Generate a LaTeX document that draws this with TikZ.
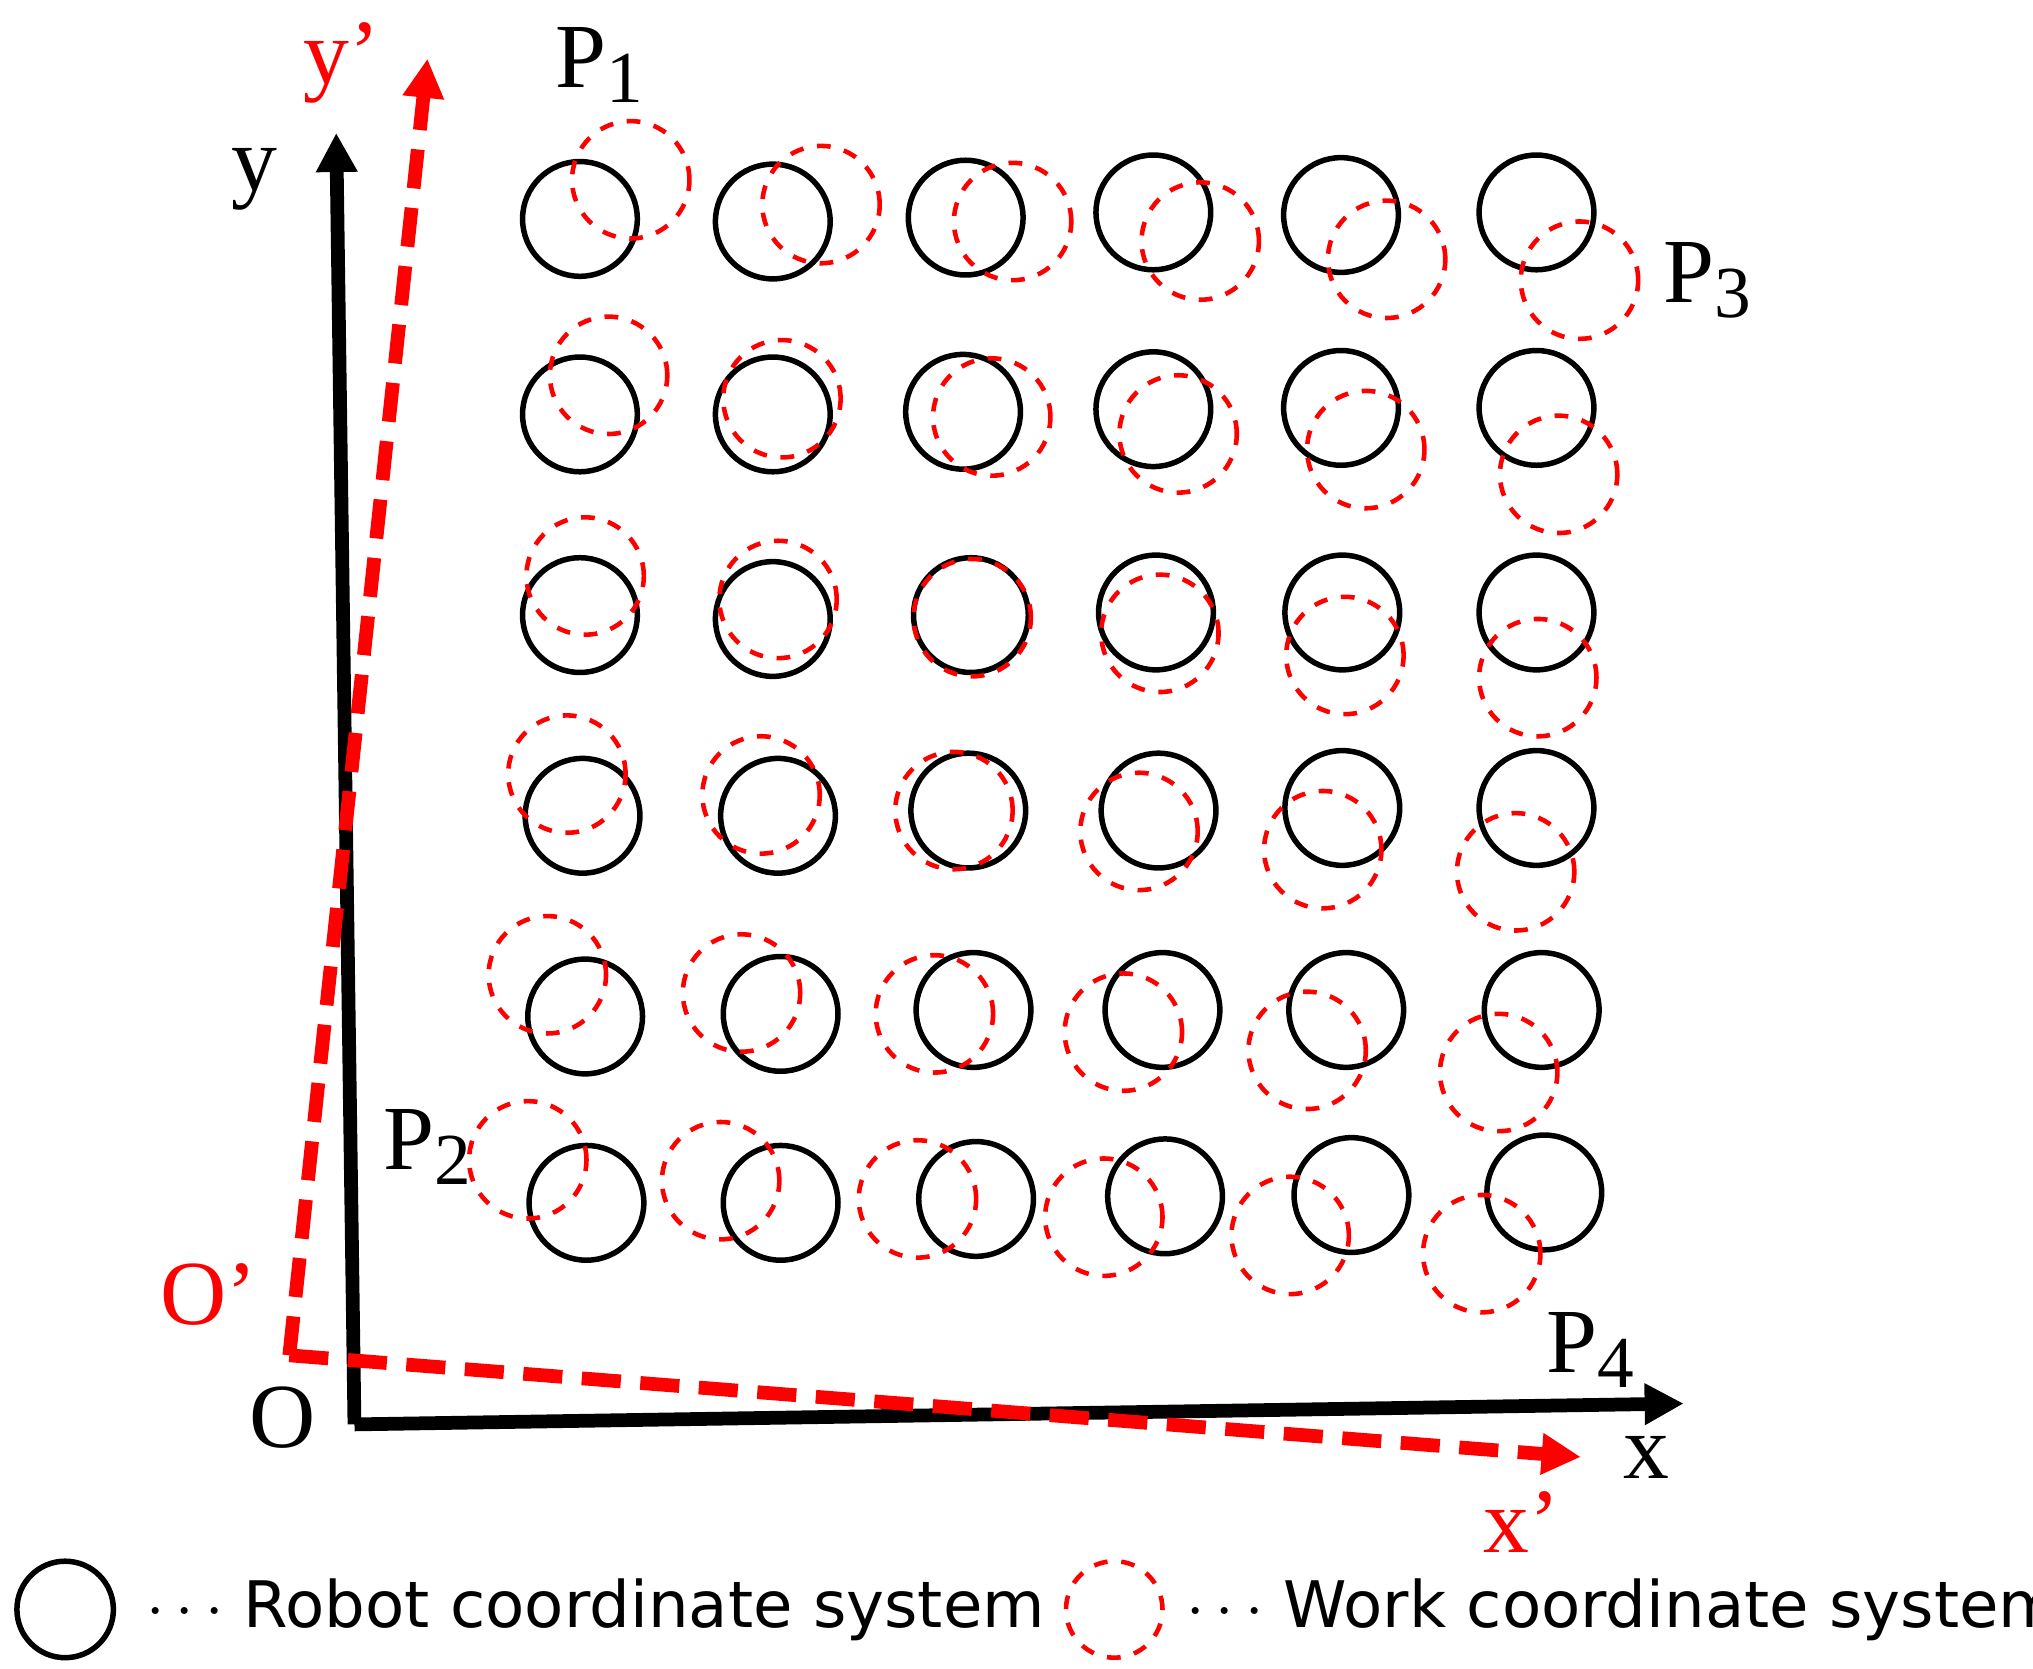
\documentclass[tikz,border=0pt]{standalone}
\usepackage{fontspec}
\setmainfont{Liberation Serif}
\newfontfamily\legendfont{DejaVu Sans}
\usetikzlibrary{arrows.meta}
\newcommand{\sbs}[1]{\raisebox{-0.35ex}{\fontsize{16}{16}\selectfont #1}}
\tikzset{
  robot/.style={circle,draw=black,line width=1.2pt,minimum size=0.88cm,inner sep=0pt},
  work/.style={circle,draw=red,dashed,line width=1pt,minimum size=0.9cm,inner sep=0pt},
  lbl/.style={font=\fontsize{20}{22}\selectfont},
  legend/.style={anchor=west,font=\legendfont\fontsize{14}{16}\selectfont},
}
\begin{document}
\begin{tikzpicture}[x=0.01cm,y=-0.01cm]
\useasboundingbox (0,0) rectangle (1560,1280);

% robot coordinate system circles
\foreach \px/\py [count=\i] in {448/168,596/170,744/167,888/163,1032/165,1182/163,
  448/318,596/318,742/316,888/314,1032/313,1182/313,
  448/472,596/475,748/472,890/470,1033/470,1182/470,
  450/626,600/626,746/622,892/622,1033/620,1182/620,
  452/780,602/778,750/775,895/775,1036/775,1186/775,
  453/923,602/923,752/920,897/918,1040/917,1188/915}
  \node[robot] (r\i) at (\px-3,\py) {};

% work coordinate system circles
\foreach \px/\py [count=\i] in {487/138,633/157,780/170,924/185,1067/199,1215/215,
  470/288,603/306,764/320,907/333,1051/345,1199/364,
  452/442,600/460,749/474,893/486,1035/503,1183/520,
  438/594,587/610,735/622,877/638,1018/652,1166/669,
  423/748,572/762,720/778,865/792,1006/806,1153/823,
  408/890,556/906,707/920,850/934,993/948,1140/962}
  \node[work] (w\i) at (\px-3,\py) {};

% axes
\coordinate (O) at (272,1093);
\coordinate (ytip) at (258,102);
\coordinate (xtip) at (1292,1077);
\coordinate (Op) at (222,1040);
\coordinate (yptip) at (328,45);
\coordinate (xptip) at (1213,1118);
\draw[line width=3pt,-{Triangle[length=0.3cm,width=0.3cm]}] (O) -- (ytip);
\draw[line width=3pt,-{Triangle[length=0.3cm,width=0.3cm]}] (O) -- (xtip);
\draw[red,line width=3pt,dash pattern=on 0.3cm off 0.15cm,-{Triangle[length=0.3cm,width=0.3cm]}] (Op) -- (yptip);
\draw[red,line width=3pt,dash pattern=on 0.3cm off 0.15cm,-{Triangle[length=0.3cm,width=0.3cm]}] (Op) -- (xptip);

% labels
\node[lbl] (ly) at (195,138) {y};
\node[lbl,red] (lyp) at (262,48) {y’};
\node[lbl] (lo) at (217,1088) {O};
\node[lbl,red] (lop) at (160,993) {O’};
\node[lbl] (lx) at (1263,1118) {x};
\node[lbl,red] (lxp) at (1168,1168) {x’};
\node[lbl] (p1) at (460,50) {P\sbs{1}};
\node[lbl] (p2) at (328,880) {P\sbs{2}};
\node[lbl] (p3) at (1310,215) {P\sbs{3}};
\node[lbl] (p4) at (1220,1036) {P\sbs{4}};

% legend
\node[circle,draw,line width=1.2pt,minimum size=0.74cm] (lrobot) at (50,1235) {};
\node[legend] (trobot) at (100,1235) {$\cdots$ Robot coordinate system};
\node[circle,draw=red,dashed,line width=1pt,minimum size=0.74cm] (lwork) at (855,1235) {};
\node[legend] (twork) at (898,1235) {$\cdots$ Work coordinate system};
\end{tikzpicture}
\end{document}
